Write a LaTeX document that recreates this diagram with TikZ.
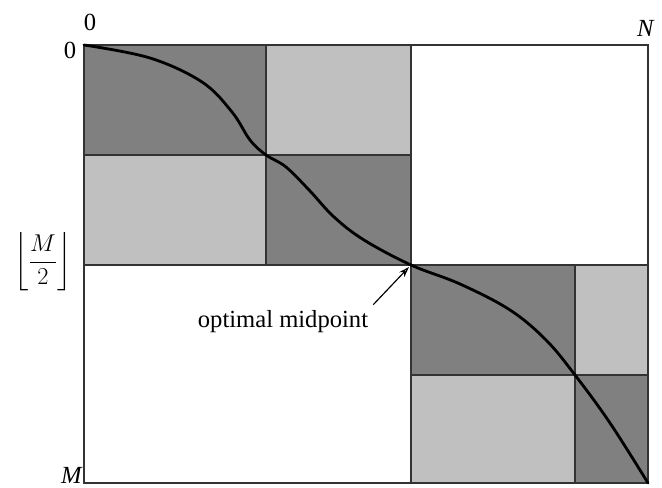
\documentclass[tikz,border=0pt]{standalone}
\usepackage{fontspec}
\setmainfont{Liberation Serif}
\usepackage{amsmath}
\usetikzlibrary{arrows.meta, positioning}
\definecolor{blockdark}{RGB}{128, 128, 128}
\definecolor{blocklight}{RGB}{192, 192, 192}
\definecolor{edgegray}{RGB}{51, 51, 51}
\begin{document}
\begin{tikzpicture}[x=0.03cm, y=-0.03cm,
    darkblk/.style={fill=blockdark, draw=edgegray, line width=1.5pt},
    lightblk/.style={fill=blocklight, draw=edgegray, line width=1.5pt},
    lbl/.style={font=\fontsize{21}{24}\selectfont, inner sep=0pt}]
  \useasboundingbox (0,0) rectangle (662,488);

  % Outer frame
  \draw[edgegray, line width=1.5pt] (84,45) rectangle (648,483);

  % Upper-left quarter
  \draw[darkblk]  (84,45)   rectangle (266,155);
  \draw[lightblk] (266,45)  rectangle (411,155);
  \draw[lightblk] (84,155)  rectangle (266,265);
  \draw[darkblk]  (266,155) rectangle (411,265);

  % Lower-right quarter
  \draw[darkblk]  (411,265) rectangle (575,375);
  \draw[lightblk] (575,265) rectangle (648,375);
  \draw[lightblk] (411,375) rectangle (575,483);
  \draw[darkblk]  (575,375) rectangle (648,483);

  % Midline
  \draw[edgegray, line width=1.5pt] (84,265) -- (648,265);
  \draw[edgegray, line width=1.5pt] (411,45) -- (411,483);

  % Optimal path
  \draw[line width=2.4pt, line cap=round] plot[smooth, tension=0.6] coordinates
    {(84,45) (150,58) (202,82) (232,112) (250,140) (266,155)
     (286,167) (310,191) (334,217) (364,240) (411,265)
     (460,284) (510,310) (546,340) (575,375)
     (610,423) (648,483)};
  \coordinate (mid) at (409,267);

  % Labels
  \node[lbl] (topzero) at (90,22) {0};
  \node[lbl] (colN) at (646,28) {\textit{N}};
  \node[lbl] (leftzero) at (70,50) {0};
  \node[lbl] (rowM) at (72,475) {\textit{M}};
  \node[lbl] (half) at (43,262) {$\left\lfloor\dfrac{M}{2}\right\rfloor$};
  \node[lbl] (midtext) at (283,322) {optimal midpoint};

  \draw[-{Stealth[open, length=9pt, width=6pt]}, line width=1pt]
    (midtext.north east) ++(5,-6) coordinate (tail) (tail) -- (mid);
\end{tikzpicture}
\end{document}
